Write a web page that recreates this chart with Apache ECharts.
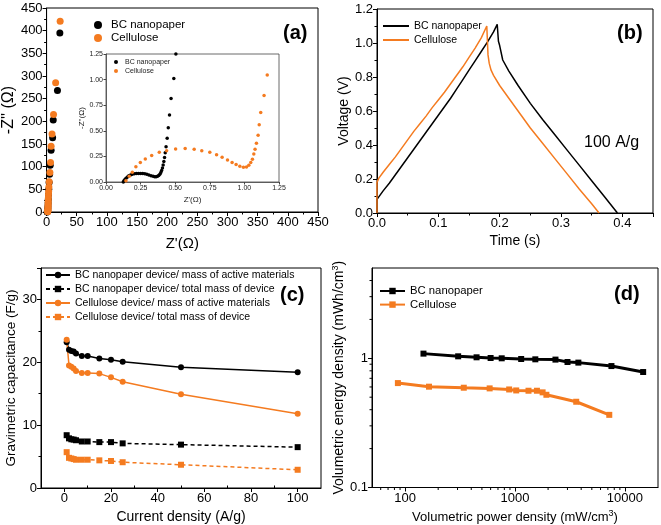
<!DOCTYPE html>
<html><head><meta charset="utf-8">
<script src="https://cdn.jsdelivr.net/npm/echarts@6/dist/echarts.min.js"></script>
<style>html,body{margin:0;padding:0;background:#fff}#c{width:661px;height:525px}</style>
</head><body><div id="c"></div>
<script>
// ---------- (a) Nyquist ----------
const aBC = [[22,395],[18,268],[11,203],[10,164],[7.5,136],[6,103],[5,83],[4.2,65],[3.6,50],[3.2,38],[2.9,28],[2.6,20],[2.3,13],[2.1,8],[1.9,4],[1.6,2],[1.3,0.8],[1,0.2]];
const aCell = [[22.5,421],[15,285],[11.5,215],[9,172],[7.5,145],[6.5,109],[5.5,87],[4.3,67],[3.8,55],[3.4,45],[3.1,38],[2.9,31],[2.7,25],[2.6,20],[2.5,16],[2.4,12],[2.3,9],[2.2,6],[2.1,4],[2,2],[1.9,1],[1.8,0.4]];
const insetBC = [[0.125,0.0],[0.13,0.012],[0.137,0.025],[0.145,0.037],[0.155,0.05],[0.165,0.06],[0.177,0.068],[0.19,0.075],[0.205,0.08],[0.22,0.083],[0.235,0.084],[0.25,0.084],[0.265,0.083],[0.28,0.08],[0.295,0.075],[0.31,0.068],[0.325,0.061],[0.34,0.055],[0.352,0.052],[0.362,0.052],[0.372,0.056],[0.381,0.064],[0.389,0.076],[0.396,0.092],[0.402,0.112],[0.408,0.137],[0.413,0.165],[0.418,0.2],[0.423,0.24],[0.428,0.285],[0.434,0.345],[0.442,0.428],[0.45,0.53],[0.459,0.655],[0.47,0.815],[0.49,1.01],[0.505,1.25]];
const insetCell = [[0.144,0.013],[0.168,0.055],[0.19,0.095],[0.216,0.15],[0.248,0.19],[0.284,0.225],[0.33,0.26],[0.385,0.29],[0.438,0.306],[0.503,0.323],[0.572,0.326],[0.637,0.32],[0.692,0.306],[0.75,0.29],[0.799,0.267],[0.839,0.242],[0.878,0.215],[0.911,0.19],[0.94,0.17],[0.967,0.154],[0.993,0.144],[1.015,0.147],[1.032,0.163],[1.046,0.19],[1.058,0.222],[1.068,0.274],[1.077,0.32],[1.087,0.378],[1.099,0.457],[1.107,0.558],[1.118,0.678],[1.142,0.845],[1.165,1.044]];
// ---------- (b) charge/discharge ----------
const bBC = [[0,0],[0,0.08],[0.005,0.105],[0.01,0.13],[0.02,0.175],[0.03,0.225],[0.04,0.275],[0.05,0.325],[0.06,0.375],[0.07,0.425],[0.08,0.475],[0.09,0.525],[0.1,0.575],[0.11,0.625],[0.12,0.675],[0.13,0.73],[0.14,0.785],[0.15,0.84],[0.16,0.895],[0.17,0.95],[0.18,1.005],[0.19,1.065],[0.196,1.11],[0.198,1.01],[0.2,0.985],[0.205,0.9],[0.215,0.835],[0.23,0.75],[0.25,0.645],[0.27,0.55],[0.29,0.46],[0.31,0.37],[0.33,0.28],[0.35,0.19],[0.37,0.1],[0.392,0]];
const bCell = [[0,0],[0,0.18],[0.003,0.205],[0.01,0.24],[0.02,0.285],[0.03,0.33],[0.04,0.38],[0.05,0.43],[0.06,0.48],[0.07,0.525],[0.08,0.57],[0.09,0.62],[0.1,0.665],[0.11,0.71],[0.12,0.76],[0.13,0.81],[0.14,0.86],[0.15,0.915],[0.16,0.97],[0.17,1.03],[0.179,1.1],[0.181,0.93],[0.183,0.88],[0.186,0.84],[0.19,0.81],[0.2,0.75],[0.217,0.665],[0.235,0.575],[0.25,0.5],[0.27,0.41],[0.29,0.32],[0.31,0.23],[0.33,0.14],[0.35,0.054],[0.362,0]];
// ---------- (c) gravimetric capacitance ----------
const cCurrent = [1,2,3,4,5,7.5,10,15,20,25,50,100];
const cBCActive = [23.2,22.0,21.8,21.7,21.4,21.0,21.0,20.6,20.4,20.1,19.2,18.4];
const cBCTotal = [8.4,7.9,7.75,7.7,7.6,7.4,7.4,7.3,7.3,7.1,6.9,6.5];
const cCellActive = [23.6,19.5,19.3,19.0,18.6,18.3,18.3,18.2,17.6,16.9,14.9,11.8];
const cCellTotal = [5.7,4.8,4.7,4.6,4.5,4.5,4.5,4.4,4.3,4.1,3.7,2.9];
const cXLabels = [0,20,40,60,80,100];
const cXMinor = [10,30,50,70,90];
// ---------- (d) Ragone ----------
const dBCPower = [147,304,447,600,757,1138,1531,2334,3004,3771,7542,14654];
const dBCEnergy = [1.087,1.036,1.018,1.005,1.0,0.988,0.982,0.977,0.936,0.926,0.871,0.783];
const dCellPower = [86,165,342,588,885,1026,1327,1583,1783,1930,3606,7207];
const dCellEnergy = [0.643,0.603,0.592,0.585,0.574,0.564,0.561,0.561,0.545,0.522,0.461,0.365];
const dXLabels = [100,1000,10000];
const dYLabels = [0.1,1];
const dXMinor = [60,70,80,90,200,300,400,500,600,700,800,900,2000,3000,4000,5000,6000,7000,8000,9000];
const dYMinor = [0.2,0.3,0.4,0.5,0.6,0.7,0.8,0.9,2,3,4];

const ORANGE = '#F47B20';
const FONT = '"Liberation Sans", Arial, sans-serif';
const zip = (xs, ys) => xs.map((x, i) => [x, ys[i]]);
const strip = n => n.split(':')[1];

function axisBase(o) {
  return Object.assign({
    axisLine: {show: true, onZero: false, lineStyle: {color: '#000', width: 1}},
    axisTick: {show: true, inside: false, length: 4, lineStyle: {color: '#000'}},
    minorTick: {show: true, splitNumber: 2, length: 2.5, lineStyle: {color: '#000'}},
    splitLine: {show: false},
    axisLabel: {color: '#000', fontSize: 13, fontFamily: FONT, margin: 4},
    nameLocation: 'middle',
    nameTextStyle: {color: '#000', fontSize: 14, fontFamily: FONT}
  }, o);
}
const insetAxis = o => axisBase(Object.assign({
  axisLine: {show: true, onZero: false, lineStyle: {color: '#444', width: 0.8}},
  axisTick: {show: true, length: 2.5, lineStyle: {color: '#444'}},
  minorTick: {show: false},
  axisLabel: {color: '#222', fontSize: 7, fontFamily: FONT, margin: 3, formatter: v => v.toFixed(2)},
  nameTextStyle: {color: '#222', fontSize: 8, fontFamily: FONT}
}, o));

const supName = (pre, post, size) => ({
  name: '{t|' + pre + '}{s|3}{t|' + post + '}',
  nameTextStyle: {color: '#000', fontFamily: FONT, rich: {
    t: {fontSize: size, fontFamily: FONT, color: '#000'},
    s: {fontSize: 9, fontFamily: FONT, color: '#000', verticalAlign: 'top', padding: [0, 0, 7, 0]}
  }}
});

const chart = echarts.init(document.getElementById('c'), null, {renderer: 'canvas'});
const legendCommon = {orient: 'vertical', selectedMode: false, formatter: strip};
const lt = (size, lh, extra) => Object.assign({color: '#000', fontFamily: FONT, fontSize: size, lineHeight: lh}, extra || {});

const option = {
  animation: false,
  backgroundColor: '#fff',
  grid: [
    {left: 41, top: 8, width: 277, height: 204, show: true, borderColor: '#000', borderWidth: 1},
    {left: 106, top: 54, width: 173, height: 128, show: true, borderColor: '#444', borderWidth: 0.8, backgroundColor: '#fff'},
    {left: 377, top: 9, width: 276, height: 204, show: true, borderColor: '#000', borderWidth: 1},
    {left: 41, top: 268, width: 280, height: 220, show: true, borderColor: '#000', borderWidth: 1},
    {left: 372, top: 268, width: 286, height: 220, show: true, borderColor: '#000', borderWidth: 1}
  ],
  xAxis: [
    axisBase({gridIndex: 0, type: 'value', min: 0, max: 450, interval: 50, name: "Z'(Ω)", nameGap: 24,
      nameTextStyle: {color: '#000', fontSize: 15, fontFamily: FONT}}),
    insetAxis({gridIndex: 1, type: 'value', min: 0, max: 1.25, interval: 0.25, name: "Z'(Ω)", nameGap: 14}),
    axisBase({gridIndex: 2, type: 'value', min: 0, max: 0.45, interval: 0.1, name: 'Time (s)', nameGap: 21,
      axisLabel: {color: '#000', fontSize: 13, fontFamily: FONT, margin: 4, showMaxLabel: false, formatter: v => v.toFixed(1)}}),
    axisBase({gridIndex: 3, type: 'value', min: -10, max: 110, name: 'Current density (A/g)', nameGap: 22,
      minorTick: {show: false},
      axisTick: {show: true, length: 4, lineStyle: {color: '#000'}, customValues: cXLabels},
      axisLabel: {color: '#000', fontSize: 13, fontFamily: FONT, margin: 4, customValues: cXLabels}}),
    axisBase({gridIndex: 3, type: 'value', min: -10, max: 110, axisLine: {show: false}, minorTick: {show: false},
      axisTick: {show: true, length: 2.5, lineStyle: {color: '#000'}, customValues: cXMinor},
      axisLabel: {show: false}, name: ''}),
    Object.assign(axisBase({gridIndex: 4, type: 'log', min: 50, max: 20000, nameGap: 22, minorTick: {show: false},
      axisTick: {show: true, length: 4, lineStyle: {color: '#000'}, customValues: dXLabels},
      axisLabel: {color: '#000', fontSize: 13, fontFamily: FONT, margin: 4, align: 'center', alignMinLabel: 'center', alignMaxLabel: 'center',
        hideOverlap: false, customValues: dXLabels, formatter: v => String(Math.round(v))}}),
      supName('Volumetric power density (mW/cm', ')', 13))
  ],
  yAxis: [
    axisBase({gridIndex: 0, type: 'value', min: 0, max: 450, interval: 50, name: "-Z'' (Ω)", nameGap: 22,
      nameTextStyle: {color: '#000', fontSize: 16, fontFamily: FONT}}),
    insetAxis({gridIndex: 1, type: 'value', min: 0, max: 1.25, interval: 0.25, name: "-Z''(Ω)", nameGap: 20}),
    axisBase({gridIndex: 2, type: 'value', min: 0, max: 1.2, interval: 0.2, name: 'Voltage (V)', nameGap: 25,
      axisLabel: {color: '#000', fontSize: 13, fontFamily: FONT, margin: 4, formatter: v => v.toFixed(1)}}),
    axisBase({gridIndex: 3, type: 'value', min: 0, max: 35, interval: 10, name: 'Gravimetric capacitance (F/g)', nameGap: 23,
      nameTextStyle: {color: '#000', fontSize: 13.5, fontFamily: FONT},
      axisLabel: {color: '#000', fontSize: 13, fontFamily: FONT, margin: 4, showMaxLabel: false}}),
    Object.assign(axisBase({gridIndex: 4, type: 'log', min: 0.1, max: 5, nameGap: 24, minorTick: {show: false},
      axisTick: {show: true, length: 4, lineStyle: {color: '#000'}, customValues: dYLabels},
      axisLabel: {color: '#000', fontSize: 13, fontFamily: FONT, margin: 4, customValues: dYLabels, formatter: v => String(v)}}),
      supName('Volumetric energy density (mWh/cm', ')', 14))
  ],
  legend: [
    Object.assign({}, legendCommon, {data: ['a:BC nanopaper', 'a:Cellulose'], left: 89, top: 14, icon: 'circle', itemWidth: 8, itemHeight: 8, itemGap: 1,
      textStyle: lt(11.5, 12, {padding: [0, 0, 0, 4]})}),
    Object.assign({}, legendCommon, {data: ['i:BC nanopaper', 'i:Cellulose'], left: 109, top: 53, icon: 'circle', itemWidth: 4, itemHeight: 4, itemGap: 1,
      textStyle: lt(7, 8, {color: '#222', padding: [0, 0, 0, 2]})}),
    Object.assign({}, legendCommon, {data: ['b:BC nanopaper', 'b:Cellulose'], left: 378, top: 15, icon: 'rect', itemWidth: 26, itemHeight: 2, itemGap: 2,
      textStyle: lt(10.5, 12)}),
    Object.assign({}, legendCommon, {data: ['c:BC nanopaper device/ mass of active materials', 'c:BC nanopaper device/ total mass of device',
      'c:Cellulose device/ mass of active materials', 'c:Cellulose device/ total mass of device'], left: 40, top: 264, itemWidth: 24, itemHeight: 8, itemGap: 2,
      textStyle: lt(10.5, 12)}),
    Object.assign({}, legendCommon, {data: ['d:BC nanopaper', 'd:Cellulose'], left: 374, top: 280, itemWidth: 25, itemHeight: 8, itemGap: 1.6,
      textStyle: lt(11.3, 12)})
  ],
  series: [
    {name: 'a:BC nanopaper', type: 'scatter', xAxisIndex: 0, yAxisIndex: 0, data: aBC, symbolSize: 7, itemStyle: {color: '#000', opacity: 1}},
    {name: 'a:Cellulose', type: 'scatter', xAxisIndex: 0, yAxisIndex: 0, data: aCell, symbolSize: 7, itemStyle: {color: ORANGE, opacity: 1}},
    {name: 'i:BC nanopaper', type: 'scatter', xAxisIndex: 1, yAxisIndex: 1, data: insetBC, symbolSize: 3.5, itemStyle: {color: '#000', opacity: 1}, clip: false},
    {name: 'i:Cellulose', type: 'scatter', xAxisIndex: 1, yAxisIndex: 1, data: insetCell, symbolSize: 3.5, itemStyle: {color: ORANGE, opacity: 1}},
    {name: 'b:BC nanopaper', type: 'line', xAxisIndex: 2, yAxisIndex: 2, data: bBC, symbol: 'none', lineStyle: {color: '#000', width: 1.5}, itemStyle: {color: '#000'}},
    {name: 'b:Cellulose', type: 'line', xAxisIndex: 2, yAxisIndex: 2, data: bCell, symbol: 'none', lineStyle: {color: ORANGE, width: 1.5}, itemStyle: {color: ORANGE}},
    {name: 'c:BC nanopaper device/ mass of active materials', type: 'line', xAxisIndex: 3, yAxisIndex: 3, data: zip(cCurrent, cBCActive), symbol: 'circle', symbolSize: 6, lineStyle: {color: '#000', width: 1.5}, itemStyle: {color: '#000'}},
    {name: 'c:BC nanopaper device/ total mass of device', type: 'line', xAxisIndex: 3, yAxisIndex: 3, data: zip(cCurrent, cBCTotal), symbol: 'rect', symbolSize: 6, lineStyle: {color: '#000', width: 1.5, type: [4, 3]}, itemStyle: {color: '#000'}},
    {name: 'c:Cellulose device/ mass of active materials', type: 'line', xAxisIndex: 3, yAxisIndex: 3, data: zip(cCurrent, cCellActive), symbol: 'circle', symbolSize: 6, lineStyle: {color: ORANGE, width: 1.5}, itemStyle: {color: ORANGE}},
    {name: 'c:Cellulose device/ total mass of device', type: 'line', xAxisIndex: 3, yAxisIndex: 3, data: zip(cCurrent, cCellTotal), symbol: 'rect', symbolSize: 6, lineStyle: {color: ORANGE, width: 1.5, type: [4, 3]}, itemStyle: {color: ORANGE}},
    {name: 'd:BC nanopaper', type: 'line', xAxisIndex: 5, yAxisIndex: 4, data: zip(dBCPower, dBCEnergy), symbol: 'rect', symbolSize: 6, lineStyle: {color: '#000', width: 3}, itemStyle: {color: '#000'}},
    {name: 'd:Cellulose', type: 'line', xAxisIndex: 5, yAxisIndex: 4, data: zip(dCellPower, dCellEnergy), symbol: 'rect', symbolSize: 6, lineStyle: {color: ORANGE, width: 3}, itemStyle: {color: ORANGE}},
    {type: 'custom', xAxisIndex: 5, yAxisIndex: 4, silent: true, clip: false, data: dXMinor.map(v => [v, 0.1]),
      renderItem: (p, api) => { const pt = api.coord([api.value(0), api.value(1)]); return {type: 'line', shape: {x1: pt[0], y1: pt[1], x2: pt[0], y2: pt[1] + 2.5}, style: {stroke: '#000', lineWidth: 1}}; }},
    {type: 'custom', xAxisIndex: 5, yAxisIndex: 4, silent: true, clip: false, data: dYMinor.map(v => [50, v]),
      renderItem: (p, api) => { const pt = api.coord([api.value(0), api.value(1)]); return {type: 'line', shape: {x1: pt[0], y1: pt[1], x2: pt[0] - 2.5, y2: pt[1]}, style: {stroke: '#000', lineWidth: 1}}; }}
  ],
  graphic: [
    {type: 'text', left: 283, top: 23, style: {text: '(a)', font: 'bold 20px ' + FONT, fill: '#000'}},
    {type: 'text', left: 617, top: 23, style: {text: '(b)', font: 'bold 20px ' + FONT, fill: '#000'}},
    {type: 'text', left: 584, top: 135, style: {text: '100 A/g', font: '16px ' + FONT, fill: '#000'}},
    {type: 'text', left: 280, top: 285, style: {text: '(c)', font: 'bold 20px ' + FONT, fill: '#000'}},
    {type: 'text', left: 614, top: 284, style: {text: '(d)', font: 'bold 20px ' + FONT, fill: '#000'}}
  ]
};
chart.setOption(option);
</script>
</body></html>
